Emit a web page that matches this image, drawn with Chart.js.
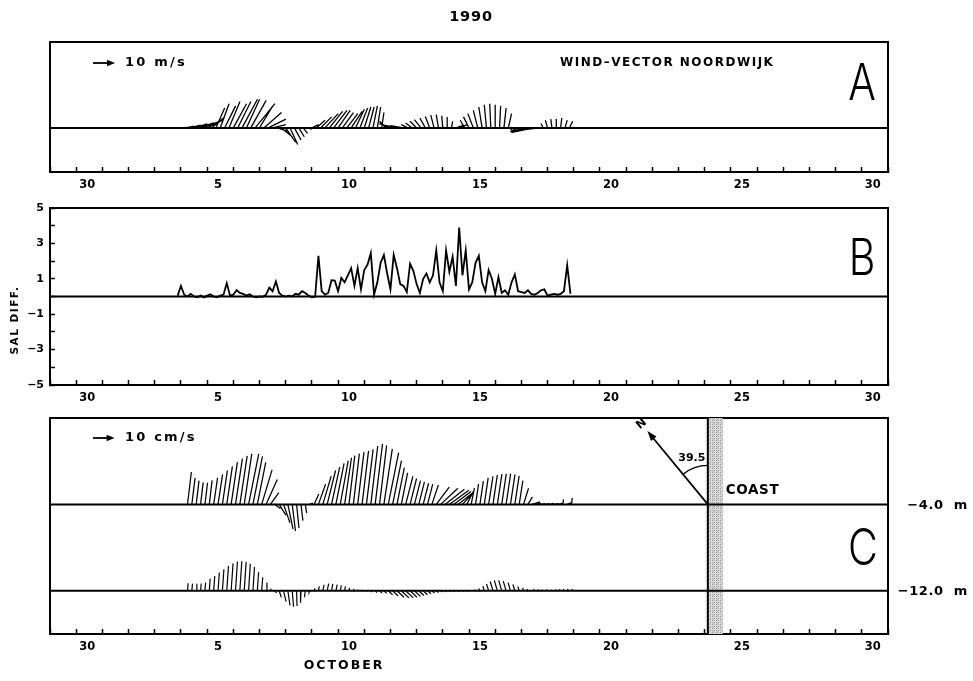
<!DOCTYPE html>
<html><head><meta charset="utf-8">
<script src="https://cdn.jsdelivr.net/npm/chart.js@4"></script>
<style>
html,body{margin:0;padding:0;background:#fff;}
#wrap{position:relative;width:973px;height:681px;overflow:hidden;}
#wrap canvas{position:absolute;left:0;top:0;}
</style></head><body>
<div id="wrap">
<canvas id="cA" width="973" height="681"></canvas>
<canvas id="cB" width="973" height="681"></canvas>
<canvas id="cC" width="973" height="681"></canvas>
</div>
<script>
// ---------- DATA (days counted from 30 September 1990) ----------
const TICK_DAYS = [0, 5, 10, 15, 20, 25, 30];
const TICK_LABELS = ['30', '5', '10', '15', '20', '25', '30'];
const SAL_TICKS = [-5, -3, -1, 1, 3, 5];

// A: wind vectors Noordwijk (m/s), every 4 h
const WIND_START = 4.0, WIND_STEP = 1 / 6;
const windU = [2,4,5,6,7,7,7,6,4,4, 5,5,6,6,7,6,7,9,6,8, 8,6,5,5,4.5,3.5,3,2.5,2,2,
  3,4,5,6,6,6,5.5,5,5,5, 4,3.5,3,2.5,2,1.5,1,-3,-5,-6, -6,-6,-3,-3,-3,-3,-2.5,-2,-1.5,-1,
  -0.5,0,0.5,3,3,-2,-2.5,-2.5,-2,-1.5, -1,-0.5,0,0.5,1,1.5,-1,-3,-4.5,-6, -7,-8,-8,-1,-1,-0.5,0,0.5,1,1.5];
const windV = [0.3,0.8,1.3,1.8,2.3,2.8,3.5,5,9,11, 10,12,11,12,13,13,12.5,11,10,7,
  4,1.5,-1.5,-4,-6.5,-7.5,-5.5,-4,-2.5,-0.5, 1.5,3.5,5,6.5,7.5,8,8,7,6.5,7.5,
  8.5,9,9.5,9.5,10,9.5,7,3,2,1.5, 1,1,1.5,2.2,3,3.8,4.5,5.2,5.8,6,
  5.5,5,3,1,1.5,3.5,5,6.5,8,9.5, 10.5,11,10.5,10,9,6.5,-1,-1.8,-2,-2, -1.8,-1.5,-1,2,3.5,4,4,4.5,3.5,3];

// B: salinity difference, every 3 h
const SAL_START = 3.875, SAL_STEP = 0.125;
const salDiff = [
  0.05,0.6,0.1,0.0,0.15,0.0,-0.05,0.05,-0.05,0.05,
  0.12,0.0,-0.05,0.05,0.1,0.75,0.05,0.1,0.36,0.2,
  0.15,0.05,0.12,0.0,-0.05,0.0,-0.02,0.1,0.5,0.3,
  0.85,0.2,0.05,0.0,0.05,0.0,0.15,0.1,0.3,0.2,
  0.05,-0.05,0.0,2.3,0.3,0.1,0.2,0.92,0.9,0.3,
  1.05,0.8,1.2,1.6,0.6,1.6,0.4,1.5,1.8,2.45,
  0.1,0.8,1.9,2.35,1.3,0.4,2.35,1.6,0.7,0.6,
  0.25,1.85,1.45,0.7,0.2,1.0,1.3,0.8,1.2,2.6,
  0.8,0.3,2.6,1.4,2.25,0.6,3.9,1.2,2.6,0.4,
  0.8,1.9,2.3,0.8,0.3,1.5,1.0,0.15,1.1,0.2,
  0.35,0.1,0.8,1.25,0.3,0.25,0.2,0.35,0.15,0.1,
  0.2,0.35,0.4,0.05,0.1,0.15,0.1,0.15,0.3,1.76,
  0.15];

// C: current vectors (cm/s), every 4 h, at -4.0 m and -12.0 m
const CUR_START = 4.25, CUR_STEP = 1 / 6;
const cur4U = [1.8,1.5,1.3,1.2,1.2,1.3, 1.8,2.1,2.3,2.6,2.9,3.2,3.4,3.5, 4.7,4.4,3.9, 4.8,5.2,3.9,
  2.6,3.1,3.0,2.4,1.5,1.1,0.9,0.6, 1.5,2.2,3.3,3.9,3.9,3.8,3.8,3.7,3.2,
  2.7,2.8,2.9,3.0,3.1,3.2,3.4,3.3, 3.9, 4.8,4.1,3.4,2.9, 3.3,3.0,2.8,2.6,2.5,2.4,
  3,6,8,9,9,8,7,5,3,1.5, 1.4,1.6,1.8,2.0,2.0,2.1,2.1,2.1,2.1,2.0,1.7, 2.3,2.1,3.6,
  2.0,2.0,2.0,2.0,2.0,2.0, 0.3,2.0,0.3];
const cur4V = [15.0,12.3,11.0,10.2,10.0,11.1,12.3,13.9,15.6,17.6,
  19.6,21.2,22.5,23.4,23.4,22.2,19.4,16.0,11.5,5.5,
  -1.9,-5.0,-8.5,-11.5,-12.3,-11.0,-7.5,-4.0,0.6,4.8,
  9.3,13.1,15.7,17.3,19.0,20.3,21.6,22.6,23.5,24.2,
  24.8,25.5,27.0,28.0,27.3,25.7,24.0,20.3,17.0,14.6,
  13.0,12.0,11.0,10.4,9.8,9.4,9.0,8.0,7.5,7.0,
  6.5,6.0,5.5,5.5,6.0,7.5,9.4,10.8,12.3,13.0,
  13.6,14.0,14.2,14.2,13.9,13.2,11.0,7.5,3.5,1.2,
  0.5,0.4,0.4,0.5,0.4,0.6,2.3,0.8,3.0];
const cur12U = [0.3,0.3,0.3,0.3,0.3,0.4,0.5,0.6,0.7,0.8,0.9,0.9,0.9,0.9,0.8,0.7,0.6,0.5,0.4,0.3,
  0.8,1.0,1.2,1.0,0.6,0.2,-0.2,-0.4,-0.3,
  0.3,0.4,0.6,0.7,0.6,0.6,0.5,0.4,0.3,0.2,0.2,0.2,
  0.4,0.7,0.9,1.1,1.3,2.0,2.6,3.2,3.5,3.5,3.2,2.8,2.4,2.0,1.6,1.2,1.0,0.8,0.7,0.7,0.6,0.6,0.5,0.5,
  -0.1,-0.2,-0.4,-0.6,-1.0,-1.3,-1.4,-1.4,-1.3,-1.1,-0.9,-0.6,-0.4,-0.3,
  1.0,1.2,1.0,1.2,1.0,1.2,0.8,0.5,0.3,0.5];
const cur12V = [3.5,3.3,3.3,3.4,3.8,5.6,6.8,8.5,10.0,11.5,
  12.7,13.5,13.7,13.4,12.5,11.0,8.6,6.3,3.9,1.0,
  -1.0,-3.0,-5.0,-6.8,-7.4,-7.0,-5.5,-3.0,-0.8,1.2,
  2.0,2.8,3.3,3.2,2.9,2.5,2.0,1.4,0.9,0.5,
  0.3,-0.3,-0.6,-0.8,-1.0,-1.2,-1.8,-2.4,-3.0,-3.3,
  -3.3,-3.0,-2.6,-2.2,-1.8,-1.4,-1.0,-0.8,-0.6,-0.5,
  -0.5,-0.4,-0.4,-0.3,-0.3,0.3,0.6,1.2,2.1,3.2,
  4.3,4.8,4.8,4.5,3.8,2.9,2.0,1.3,0.8,0.6,
  0.5,0.4,0.5,0.4,0.5,0.6,0.8,1.0,0.8];

const DEPTH_UPPER = 40, DEPTH_LOWER = 0;   // baselines of the two current records on panel C's axis
const COAST_DAY = 24.12, COAST_ANGLE = 39.5;

// ---------- helpers ----------
const FONT = "'DejaVu Sans', 'Liberation Sans', sans-serif";
const XMIN = -1, XMAX = 31;
const INK = '#000';

function xAxis() {
  return {
    type: 'linear', position: 'bottom', min: XMIN, max: XMAX,
    afterBuildTicks: s => { const t = []; for (let d = XMIN; d <= XMAX; d++) t.push({ value: d }); s.ticks = t; },
    ticks: {
      autoSkip: false, maxRotation: 0, minRotation: 0, padding: 11, labelOffset: 11, color: INK,
      font: { family: FONT, weight: 'bold', size: 11.5 },
      callback: v => { const i = TICK_DAYS.indexOf(Math.round(v)); return i >= 0 ? TICK_LABELS[i] : ''; }
    },
    grid: { display: true, drawOnChartArea: false, drawTicks: true, tickLength: -5, tickColor: INK, tickWidth: 1.5 },
    border: { display: true, color: INK, width: 2 },
    afterFit: s => { s.height = 20; }
  };
}
function frameAxes() {
  return {
    xTop: { type: 'linear', position: 'top', min: XMIN, max: XMAX, ticks: { display: false },
      grid: { display: false, drawTicks: false }, border: { display: true, color: INK, width: 2 },
      afterFit: s => { s.height = 0; } },
    yRight: { type: 'linear', position: 'right', ticks: { display: false },
      grid: { display: false, drawTicks: false }, border: { display: true, color: INK, width: 2 },
      afterFit: s => { s.width = 0; } }
  };
}
function plainY(min, max) {
  return { type: 'linear', position: 'left', min, max, ticks: { display: false },
    grid: { display: false, drawTicks: false }, border: { display: true, color: INK, width: 2 },
    afterFit: s => { s.width = 50; } };
}
function baseline(y, w) {
  return { data: [{ x: XMIN, y }, { x: XMAX, y }], borderColor: INK, borderWidth: w || 2, pointRadius: 0 };
}
function stickSet(w) {
  return { data: [], borderColor: INK, borderWidth: w, pointRadius: 0, spanGaps: false, tension: 0 };
}
function stickData(chart, start, step, U, V, base) {
  const xs = chart.scales.x, ys = chart.scales.y;
  const pxDay = xs.getPixelForValue(1) - xs.getPixelForValue(0);
  const pxUnit = ys.getPixelForValue(0) - ys.getPixelForValue(1);
  const k = pxUnit / pxDay;
  const out = [];
  for (let i = 0; i < U.length; i++) {
    const t = start + i * step;
    out.push({ x: t, y: base }, { x: t + U[i] * k, y: base + V[i] }, { x: t, y: null });
  }
  return out;
}
function keyArrow(ctx, x0, y0, len) {
  ctx.lineWidth = 1.8;
  ctx.beginPath(); ctx.moveTo(x0, y0); ctx.lineTo(x0 + len - 5, y0); ctx.stroke();
  ctx.beginPath(); ctx.moveTo(x0 + len, y0); ctx.lineTo(x0 + len - 8, y0 - 3.2); ctx.lineTo(x0 + len - 8, y0 + 3.2); ctx.closePath(); ctx.fill();
}
function bigLetter(ctx, ch, cx, cy) {
  ctx.save();
  ctx.translate(cx, cy); ctx.scale(0.82, 1);
  ctx.font = "300 50px Inter, 'Liberation Sans', sans-serif";
  ctx.textAlign = 'center'; ctx.textBaseline = 'middle';
  ctx.fillText(ch, 0, 0);
  ctx.restore();
}
function txt(ctx, s, x, y, size, align, spacing) {
  ctx.font = 'bold ' + size + 'px ' + FONT;
  ctx.textAlign = align || 'left'; ctx.textBaseline = 'middle';
  ctx.letterSpacing = (spacing || 0) + 'px';
  ctx.fillText(s, x, y);
  ctx.letterSpacing = '0px';
}
const common = {
  responsive: false, animation: false, events: [],
  plugins: { legend: { display: false }, tooltip: { enabled: false }, title: { display: false } }
};

// ---------- Panel A ----------
const annotA = { id: 'annotA', afterDraw(chart) {
  const { ctx, chartArea: a, scales: { y } } = chart;
  const pu = y.getPixelForValue(0) - y.getPixelForValue(1);
  ctx.save(); ctx.fillStyle = INK; ctx.strokeStyle = INK;
  txt(ctx, '1990', (a.left + a.right) / 2 + 2, a.top - 25, 14.5, 'center', 0.8);
  keyArrow(ctx, a.left + 43, a.top + 21, 10 * pu);
  txt(ctx, '10 m/s', a.left + 75, a.top + 21, 13, 'left', 2.2);
  txt(ctx, 'WIND\u2013VECTOR NOORDWIJK', a.left + 510, a.top + 21, 12, 'left', 1.5);
  bigLetter(ctx, 'A', a.right - 26, a.top + 43);
  ctx.restore();
} };
const chartA = new Chart(document.getElementById('cA'), {
  type: 'line',
  data: { datasets: [baseline(0), stickSet(1.3)] },
  options: Object.assign({}, common, {
    layout: { padding: { left: 0, right: 973 - 888, top: 42, bottom: 681 - 172 - 20 } },
    scales: Object.assign({ x: xAxis(), y: plainY(-20, 39) }, frameAxes())
  }),
  plugins: [annotA]
});
chartA.data.datasets[1].data = stickData(chartA, WIND_START, WIND_STEP, windU, windV, 0);
chartA.update('none');

// ---------- Panel B ----------
const annotB = { id: 'annotB', afterDraw(chart) {
  const { ctx, chartArea: a } = chart;
  ctx.save(); ctx.fillStyle = INK;
  ctx.translate(15, 320); ctx.rotate(-Math.PI / 2);
  txt(ctx, 'SAL DIFF.', 0, 0, 10.5, 'center', 1.5);
  ctx.restore();
  ctx.save(); ctx.fillStyle = INK;
  bigLetter(ctx, 'B', a.right - 26, 260);
  ctx.restore();
} };
const chartB = new Chart(document.getElementById('cB'), {
  type: 'line',
  data: { datasets: [
    baseline(0),
    { data: salDiff.map((v, k) => ({ x: SAL_START + k * SAL_STEP, y: v })), borderColor: INK, borderWidth: 1.8, pointRadius: 0, tension: 0 }
  ] },
  options: Object.assign({}, common, {
    layout: { padding: { left: 0, right: 973 - 888, top: 208, bottom: 681 - 385 - 20 } },
    scales: Object.assign({
      x: xAxis(),
      y: {
        type: 'linear', position: 'left', min: -5, max: 5,
        afterBuildTicks: s => { const t = []; for (let v = -5; v <= 5; v++) t.push({ value: v }); s.ticks = t; },
        ticks: { autoSkip: false, padding: 11, color: INK, font: { family: FONT, weight: 'bold', size: 11 },
          callback: v => { const r = Math.round(v); return SAL_TICKS.includes(r) ? String(r).replace('-', '\u2212') : ''; } },
        grid: { display: true, drawOnChartArea: false, drawTicks: true, tickLength: -5, tickColor: INK, tickWidth: 1.5 },
        border: { display: true, color: INK, width: 2 },
        afterFit: s => { s.width = 50; }
      }
    }, frameAxes())
  }),
  plugins: [annotB]
});

// ---------- Panel C ----------
function stipple() {
  const pc = document.createElement('canvas'); pc.width = 4; pc.height = 4;
  const p = pc.getContext('2d');
  p.fillStyle = '#dcdcdc'; p.fillRect(0, 0, 4, 4);
  p.fillStyle = '#8a8a8a'; p.fillRect(0, 0, 1, 1); p.fillRect(2, 2, 1, 1);
  p.fillStyle = '#b0b0b0'; p.fillRect(2, 0, 1, 1); p.fillRect(0, 2, 1, 1); p.fillRect(1, 3, 1, 1);
  return pc;
}
const annotC = {
  id: 'annotC',
  beforeDatasetsDraw(chart) {
    const { ctx, chartArea: a, scales: { x } } = chart;
    const cx = x.getPixelForValue(COAST_DAY);
    ctx.save();
    ctx.fillStyle = ctx.createPattern(stipple(), 'repeat');
    ctx.fillRect(cx, a.top, 15, a.bottom - a.top);
    ctx.restore();
  },
  afterDraw(chart) {
    const { ctx, chartArea: a, scales: { x, y } } = chart;
    const pu = y.getPixelForValue(0) - y.getPixelForValue(1);
    const cx = x.getPixelForValue(COAST_DAY);
    const yU = y.getPixelForValue(DEPTH_UPPER), yL = y.getPixelForValue(DEPTH_LOWER);
    ctx.save(); ctx.fillStyle = INK; ctx.strokeStyle = INK;
    // coast line
    ctx.lineWidth = 2; ctx.beginPath(); ctx.moveTo(cx, a.top); ctx.lineTo(cx, a.bottom); ctx.stroke();
    // north arrow
    const th = COAST_ANGLE * Math.PI / 180, L = 95;
    const dx = -Math.sin(th), dy = -Math.cos(th);
    const tx = cx + dx * L, ty = yU + dy * L;
    ctx.lineWidth = 1.8;
    ctx.beginPath(); ctx.moveTo(cx, yU); ctx.lineTo(tx - dx * 6, ty - dy * 6); ctx.stroke();
    const px = -dy, py = dx;
    ctx.beginPath(); ctx.moveTo(tx, ty);
    ctx.lineTo(tx - dx * 10 + px * 3.5, ty - dy * 10 + py * 3.5);
    ctx.lineTo(tx - dx * 10 - px * 3.5, ty - dy * 10 - py * 3.5);
    ctx.closePath(); ctx.fill();
    ctx.save(); ctx.translate(cx + dx * (L + 9), yU + dy * (L + 9)); ctx.rotate(-th);
    txt(ctx, 'N', 0, 0, 11.5, 'center'); ctx.restore();
    ctx.lineWidth = 1.4;
    ctx.beginPath(); ctx.arc(cx, yU, 39, -Math.PI / 2 - th, -Math.PI / 2); ctx.stroke();
    txt(ctx, '39.5', cx - 16, yU - 46, 11, 'center');
    txt(ctx, 'COAST', cx + 18, yU - 14, 13.5, 'left', 0.6);
    // depth labels
    txt(ctx, '\u22124.0  m', 968, yU + 1, 13, 'right', 0.6);
    txt(ctx, '\u221212.0  m', 968, yL + 1, 13, 'right', 0.6);
    // key, axis title, letter
    keyArrow(ctx, a.left + 43, a.top + 20, 10 * pu);
    txt(ctx, '10 cm/s', a.left + 75, a.top + 20, 13, 'left', 2.2);
    txt(ctx, 'OCTOBER', 344, a.bottom + 32, 12.5, 'center', 2);
    bigLetter(ctx, 'C', a.right - 25, 550);
    ctx.restore();
  }
};
const chartC = new Chart(document.getElementById('cC'), {
  type: 'line',
  data: { datasets: [baseline(DEPTH_UPPER), baseline(DEPTH_LOWER), stickSet(1.25), stickSet(1.2)] },
  options: Object.assign({}, common, {
    layout: { padding: { left: 0, right: 973 - 888, top: 418, bottom: 681 - 634 - 20 } },
    scales: Object.assign({ x: xAxis(), y: plainY(-20, 80) }, frameAxes())
  }),
  plugins: [annotC]
});
chartC.data.datasets[2].data = stickData(chartC, CUR_START, CUR_STEP, cur4U, cur4V, DEPTH_UPPER);
chartC.data.datasets[3].data = stickData(chartC, CUR_START, CUR_STEP, cur12U, cur12V, DEPTH_LOWER);
chartC.update('none');
</script>
</body></html>
